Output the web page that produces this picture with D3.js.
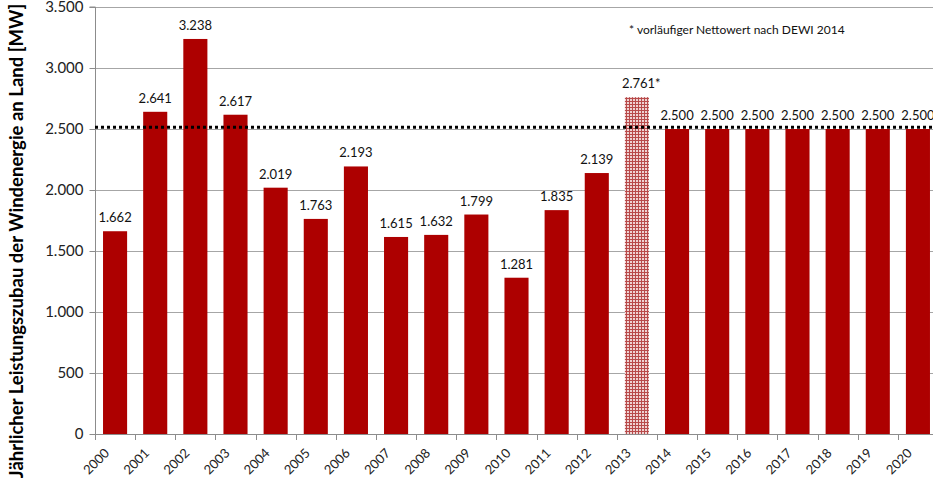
<!DOCTYPE html>
<html><head><meta charset="utf-8">
<script src="https://cdn.jsdelivr.net/npm/d3@7"></script>
<style>body{margin:0;background:#fff;} text{font-family:Lato,"Open Sans",sans-serif;}</style>
</head><body><svg id="c" width="933" height="483"></svg>
<script>
const years = ["2000","2001","2002","2003","2004","2005","2006","2007","2008","2009","2010","2011","2012","2013","2014","2015","2016","2017","2018","2019","2020"];
const values = [1662,2641,3238,2617,2019,1763,2193,1615,1632,1799,1281,1835,2139,2761,2500,2500,2500,2500,2500,2500,2500];
const valueLabels = ["1.662","2.641","3.238","2.617","2.019","1.763","2.193","1.615","1.632","1.799","1.281","1.835","2.139","2.761*","2.500","2.500","2.500","2.500","2.500","2.500","2.500"];
const preliminary = ["2013"];
const yTicks = [0,500,1000,1500,2000,2500,3000,3500];
const yTickLabels = ["0","500","1.000","1.500","2.000","2.500","3.000","3.500"];
const targetLine = 2515;
const yTitle = "Jährlicher Leistungszubau der Windenergie an Land [MW]";
const note = "* vorläufiger Nettowert nach DEWI 2014";

const svg = d3.select("#c");
const L = 95, R = 938, T = 7, B = 434;
const x = d3.scaleBand().domain(years).range([L, R]).paddingInner(0.4).paddingOuter(0.2);
const y = d3.scaleLinear().domain([0, 3500]).range([B, T]);
const red = "#ad0000";

const defs = svg.append("defs");
const pat = defs.append("pattern").attr("id","hatch").attr("width",3).attr("height",3).attr("patternUnits","userSpaceOnUse");
pat.append("rect").attr("width",3).attr("height",3).attr("fill","#b84a4a");
pat.append("rect").attr("width",2).attr("height",2).attr("fill","#efd2d2");

// gridlines
svg.append("g").selectAll("line").data(yTicks.filter(d=>d>0)).join("line")
  .attr("x1",L).attr("x2",933).attr("y1",d=>Math.round(y(d))+0.5).attr("y2",d=>Math.round(y(d))+0.5)
  .attr("stroke","#a6a6a6").attr("stroke-width",1);

// y axis
const yAxis = d3.axisLeft(y).tickValues(yTicks).tickFormat((d,i)=>yTickLabels[i]).tickSize(6).tickPadding(6);
const gy = svg.append("g").attr("transform",`translate(${L+0.5},0)`).call(yAxis);
gy.select(".domain").attr("stroke","#8c8c8c").attr("d",`M-6,${T}H0V${B}`);
gy.selectAll(".tick line").attr("stroke","#8c8c8c");
gy.selectAll(".tick text").attr("font-size",15).attr("fill","#222").style("font-family","Lato,sans-serif");

// bars
svg.append("g").selectAll("rect").data(years).join("rect")
  .attr("x",d=>x(d)).attr("width",x.bandwidth())
  .attr("y",(d,i)=>y(values[i])).attr("height",(d,i)=>B-y(values[i]))
  .attr("fill",d=>preliminary.includes(d)?"url(#hatch)":red);

// x axis
const step = x.step();
svg.append("line").attr("x1",L).attr("x2",933).attr("y1",B+0.5).attr("y2",B+0.5).attr("stroke","#8c8c8c");
svg.append("g").selectAll("line").data(d3.range(years.length+1)).join("line")
  .attr("x1",i=>Math.round(L+i*step)+0.5).attr("x2",i=>Math.round(L+i*step)+0.5)
  .attr("y1",B).attr("y2",B+6).attr("stroke","#8c8c8c");
svg.append("g").selectAll("text").data(years).join("text")
  .attr("transform",d=>`translate(${x(d)+x.bandwidth()/2-5},${B+20}) rotate(-45)`)
  .attr("text-anchor","end").attr("font-size",13).attr("fill","#222").text(d=>d);

// dotted target line
svg.append("line").attr("x1",L).attr("x2",933).attr("y1",y(targetLine)).attr("y2",y(targetLine))
  .attr("stroke","#000").attr("stroke-width",3).attr("stroke-dasharray","3,3");

// value labels
svg.append("g").selectAll("text").data(years).join("text")
  .attr("x",d=>x(d)+x.bandwidth()/2).attr("y",(d,i)=>y(values[i])-9)
  .attr("text-anchor",(d)=>d==="2013"?"start":"middle")
  .attr("dx",d=>d==="2013"?-x.bandwidth()/2-3:0)
  .attr("font-size",13).attr("fill","#111").text((d,i)=>valueLabels[i]);

// note
svg.append("text").attr("x",629).attr("y",34).attr("font-size",12).attr("fill","#111").text(note);

// y title
svg.append("text").attr("transform","translate(23,241) rotate(-90)").attr("text-anchor","middle")
  .attr("font-size",18.5).attr("font-weight","bold").attr("fill","#000").text(yTitle);
</script></body></html>
